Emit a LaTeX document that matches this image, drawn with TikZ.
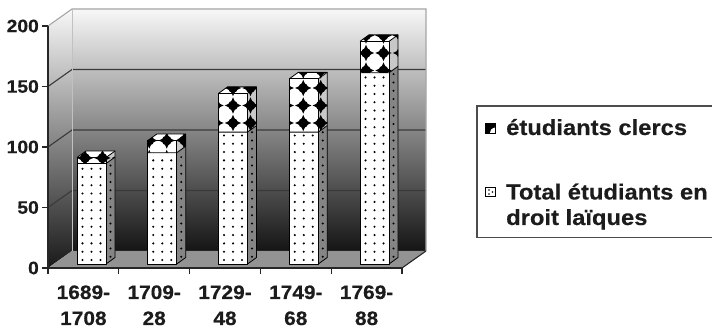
\documentclass[tikz,border=0pt]{standalone}
\usepackage{fontspec}
\newfontfamily\axisfont[FakeStretch=1.07,FakeBold=0.35]{Liberation Sans Bold}
\newfontfamily\legfont[FakeStretch=1.09,FakeBold=0.35]{Liberation Sans Bold}
\definecolor{txt}{HTML}{1C1C1C}
\definecolor{floorgray}{HTML}{939393}
\definecolor{sidegray}{HTML}{858585}
\definecolor{clside}{HTML}{C8C8C8}
\definecolor{gridc}{HTML}{3A3A3A}
\definecolor{rimc}{HTML}{A6A6A6}
\tikzset{
  clstar/.pic={
    \fill[black] (0,-8.2) .. controls (2.4,-2.4) .. (8.2,0)
      .. controls (2.4,2.4) .. (0,8.2)
      .. controls (-2.4,2.4) .. (-8.2,0)
      .. controls (-2.4,-2.4) .. (0,-8.2) -- cycle;
    \fill[black] (0,0) circle (4.9);
  },
  barline/.style={draw=black, line width=0.8pt, line join=round},
  axisline/.style={draw=black!85, line width=1.3pt},
  gridline/.style={draw=gridc, line width=1.1pt},
  rimline/.style={draw=rimc, line width=1.1pt},
  ylab/.style={font=\axisfont\fontsize{18}{20}\selectfont, text=txt, inner sep=0pt},
  xlab/.style={font=\axisfont\fontsize{19.5}{22}\selectfont, text=txt, inner sep=0pt},
  legtext/.style={font=\legfont\fontsize{21.8}{25}\selectfont, text=txt, inner sep=0pt},
}
\begin{document}
\begin{tikzpicture}[x=1pt,y=-1pt]
\useasboundingbox (0,0) rectangle (712,328);
\fill[white] (0,0) rectangle (712,328);
% walls
\shade[top color=black!3, bottom color=black!92] (72,9) rectangle (426,251);
\shade[top color=black!3, bottom color=black!90] (48,268) -- (48,26) -- (72,9) -- (72,251) -- cycle;
% floor
\fill[floorgray] (48,268) -- (72,251) -- (426,251) -- (402,268) -- cycle;
% gridlines
\foreach \v in {50,100,150} {
  \pgfmathsetmacro\yy{268-1.21*\v}
  \draw[gridline] (48,\yy) -- (72,\yy-17) -- (426,\yy-17);
}
\draw[rimline] (48,26) -- (72,9) -- (426,9) -- (426,251);
\draw[draw=rimc!70, line width=0.6pt] (72,9) -- (72,251);
% bars
\foreach \i/\L/\C/\off in {0/83/5/8, 1/92/10/19, 2/109/32/14.5, 3/109/44/14, 4/158/26/6} {
  \pgfmathsetmacro\xl{77+70.75*\i}
  \pgfmathsetmacro\xr{\xl+29}
  \pgfmathsetmacro\yL{264-1.21*\L}
  \pgfmathsetmacro\yT{\yL-1.21*\C}
  % laiques front
  \fill[white] (\xl,\yL) rectangle (\xr,264);
  \begin{scope}
    \clip (\xl,\yL) rectangle (\xr,264);
    \foreach \r in {0,...,24} {
      \foreach \c in {5.5,14.5,23.5} {
        \fill[black] (\xl+\c,260-8.3*\r) circle (1.15);
      }
    }
  \end{scope}
  % laiques side
  \fill[sidegray] (\xr,264) -- (\xr+9,257.5) -- (\xr+9,\yL-6.5) -- (\xr,\yL) -- cycle;
  \begin{scope}
    \clip (\xr,264) -- (\xr+9,257.5) -- (\xr+9,\yL-6.5) -- (\xr,\yL) -- cycle;
    \foreach \r in {0,...,24} {
      \fill[black] (\xr+4.5,256.75-8.3*\r) circle (1.1);
    }
  \end{scope}
  % clercs faces
  \fill[white] (\xl,\yT) rectangle (\xr,\yL);
  \fill[clside] (\xr,\yL) -- (\xr+9,\yL-6.5) -- (\xr+9,\yT-6.5) -- (\xr,\yT) -- cycle;
  \fill[white] (\xl,\yT) -- (\xl+9,\yT-6.5) -- (\xr+9,\yT-6.5) -- (\xr,\yT) -- cycle;
  \pgfmathtruncatemacro\nA{floor((\yT-15-88)/17.5)}
  \pgfmathtruncatemacro\nB{\nA+5}
  \begin{scope}
    \clip (\xl,\yL) -- (\xl,\yT) -- (\xl+9,\yT-6.5) -- (\xr+9,\yT-6.5) -- (\xr+9,\yL-6.5) -- (\xr,\yL) -- cycle;
    \foreach \m in {-1,0,1,2} {
      \foreach \n in {\nA,...,\nB} {
        \pic at (\xl+\off+17.5*\m,88+17.5*\n) {clstar};
      }
    }
  \end{scope}
  % outlines
  \draw[barline] (\xl,264) rectangle (\xr,\yT);
  \draw[barline] (\xl,\yL) -- (\xr,\yL) -- (\xr+9,\yL-6.5);
  \draw[barline] (\xr,264) -- (\xr+9,257.5) -- (\xr+9,\yT-6.5) -- (\xl+9,\yT-6.5) -- (\xl,\yT);
  \draw[barline] (\xr,\yT) -- (\xr+9,\yT-6.5);
}
% axes
\draw[axisline] (48,26) -- (48,268) -- (402,268);
\draw[draw=black!85, line width=1.1pt] (402,268) -- (426,251);
\foreach \v in {0,50,100,150,200} {
  \pgfmathsetmacro\yy{268-1.21*\v}
  \draw[draw=black!85, line width=1.1pt] (42,\yy) -- (48,\yy);
}
\foreach \k in {0,...,5} {
  \draw[draw=black!85, line width=1.1pt] (48+70.8*\k,268) -- (48+70.8*\k,274);
}
% y labels
\node[ylab, anchor=east] (y0) at (39,268) {0};
\node[ylab, anchor=east] (y50) at (39,207.5) {50};
\node[ylab, anchor=east] (y100) at (39,147) {100};
\node[ylab, anchor=east] (y150) at (39,86.5) {150};
\node[ylab, anchor=east] (y200) at (39,26) {200};
% x labels
\node[xlab, anchor=base] (xa1) at (83.4,299) {1689-};
\node[xlab, anchor=base] (xa2) at (83.4,325) {1708};
\node[xlab, anchor=base] (xb1) at (154.2,299) {1709-};
\node[xlab, anchor=base] (xb2) at (154.2,325) {28};
\node[xlab, anchor=base] (xc1) at (225,299) {1729-};
\node[xlab, anchor=base] (xc2) at (225,325) {48};
\node[xlab, anchor=base] (xd1) at (295.8,299) {1749-};
\node[xlab, anchor=base] (xd2) at (295.8,325) {68};
\node[xlab, anchor=base] (xe1) at (366.6,299) {1769-};
\node[xlab, anchor=base] (xe2) at (366.6,325) {88};
% legend
\draw[draw=black!70, line width=1.1pt] (720,106) -- (477,106) -- (477,237.5) -- (720,237.5);
\fill[black] (485.5,123.5) rectangle (495,133);
\fill[white] (495,127.5) .. controls (491,129) .. (490,133) -- (495,133) -- cycle;
\draw[draw=black, line width=0.8pt] (485.5,123.5) rectangle (495,133);
\fill[white] (485.5,187) rectangle (495,196.5);
\draw[draw=black, line width=0.8pt] (485.5,187) rectangle (495,196.5);
\fill[black] (489,190) circle (0.95);
\fill[black] (489,194) circle (0.95);
\fill[black] (492.5,192) circle (0.95);
\node[legtext, anchor=base west] (leg1) at (506,135) {étudiants clercs};
\node[legtext, anchor=base west] (leg2) at (506,199.5) {Total étudiants en};
\node[legtext, anchor=base west] (leg3) at (506,225) {droit laïques};
\end{tikzpicture}
\end{document}
